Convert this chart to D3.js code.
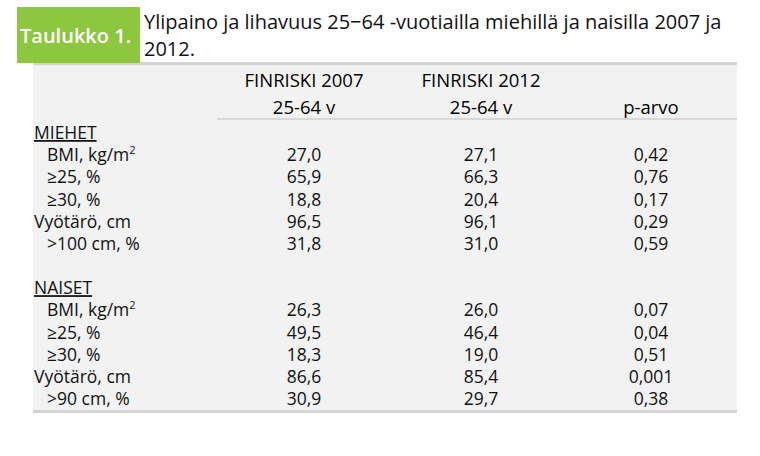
<!DOCTYPE html>
<html><head><meta charset="utf-8">
<script src="https://cdn.jsdelivr.net/npm/d3@7"></script>
<style>body{margin:0;background:#fff}text{font-family:"Liberation Sans Narrow","Open Sans",sans-serif}</style>
</head><body><svg id="c" width="760" height="456"></svg>
<script>
const rowLabels=["MIEHET","BMI, kg/m","≥25, %","≥30, %","Vyötärö, cm",">100 cm, %","","NAISET","BMI, kg/m","≥25, %","≥30, %","Vyötärö, cm",">90 cm, %"];
const v2007=["","27,0","65,9","18,8","96,5","31,8","","","26,3","49,5","18,3","86,6","30,9"];
const v2012=["","27,1","66,3","20,4","96,1","31,0","","","26,0","46,4","19,0","85,4","29,7"];
const pArvo=["","0,42","0,76","0,17","0,29","0,59","","","0,07","0,04","0,51","0,001","0,38"];
const columns=["label","FINRISKI 2007","FINRISKI 2012","p-arvo"];
const subHeaders=["","25-64 v","25-64 v",""];
const svg=d3.select("#c");
const y=d3.scalePoint().domain(d3.range(rowLabels.length)).range([133,399]);
const x=d3.scaleOrdinal().domain(columns).range([0,304,481,651]);
svg.append("rect").attr("x",33).attr("y",63).attr("width",704).attr("height",349).attr("fill","#f2f2f2");
svg.append("rect").attr("x",33).attr("y",62).attr("width",704).attr("height",3).attr("fill","#d4d4d4");
svg.append("rect").attr("x",33).attr("y",410).attr("width",704).attr("height",3).attr("fill","#d4d4d4");
svg.append("rect").attr("x",217).attr("y",118).attr("width",520).attr("height",2).attr("fill","#d8d8d8");
svg.append("rect").attr("x",17).attr("y",7).attr("width",123).attr("height",56).attr("fill","#8dc63f");
svg.append("text").attr("x",20).attr("y",43).attr("fill","#fff").attr("font-size",20).attr("font-weight",600).text("Taulukko 1.");
svg.append("text").attr("x",144).attr("y",29).attr("font-size",20).attr("fill","#111").text("Ylipaino ja lihavuus 25−64 -vuotiailla miehillä ja naisilla 2007 ja");
svg.append("text").attr("x",144).attr("y",56).attr("font-size",20).attr("fill","#111").text("2012.");
columns.slice(1).forEach((c,i)=>{
 svg.append("text").attr("x",x(c)).attr("y",i<2?87:null).attr("text-anchor","middle").attr("font-size",18.5).text(i<2?c:"");
 svg.append("text").attr("x",x(c)).attr("y",114).attr("text-anchor","middle").attr("font-size",18.5).text(i<2?subHeaders[i+1]:c);
});
const g=svg.append("g").attr("font-size",17.5).attr("fill","#111");
rowLabels.forEach((l,i)=>{
 if(!l)return;
 const header=l==="MIEHET"||l==="NAISET";
 const ind=header||l.startsWith("Vyö")?34:47;
 const t=g.append("text").attr("x",ind).attr("y",y(i)+6).text(l);
 if(header) t.attr("text-decoration","underline");
 if(l.startsWith("BMI")) t.append("tspan").attr("dy",-7).attr("font-size",11).text("2");
 [[v2007,"FINRISKI 2007"],[v2012,"FINRISKI 2012"],[pArvo,"p-arvo"]].forEach(([arr,c])=>{
   g.append("text").attr("x",x(c)).attr("y",y(i)+6).attr("text-anchor","middle").text(arr[i]);
 });
});
</script></body></html>
